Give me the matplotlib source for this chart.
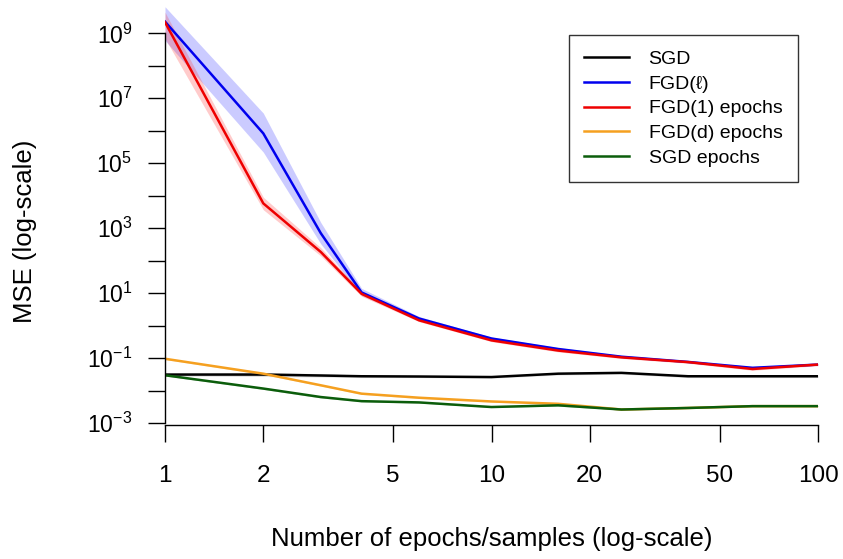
import matplotlib
matplotlib.use("Agg")
import matplotlib.pyplot as plt
from matplotlib.ticker import FixedLocator, FixedFormatter, NullLocator

plt.rcParams["font.family"] = ["Liberation Sans", "DejaVu Sans"]
plt.rcParams["mathtext.fontset"] = "custom"
plt.rcParams["mathtext.rm"] = "Liberation Sans"
plt.rcParams["mathtext.it"] = "Liberation Sans:italic"
plt.rcParams["mathtext.bf"] = "Liberation Sans:bold"

# ----------------------------------------------------------------------
# Data
# ----------------------------------------------------------------------
epochs = [1, 2, 3, 4, 6, 10, 16, 25, 40, 63, 100]

sgd = [0.031, 0.031, 0.029, 0.0275, 0.027, 0.026, 0.033, 0.035, 0.0275, 0.0275, 0.0275]
sgd_lo = [0.028, 0.027, 0.026, 0.025, 0.025, 0.024, 0.030, 0.032, 0.025, 0.025, 0.025]
sgd_hi = [0.034, 0.036, 0.033, 0.030, 0.029, 0.028, 0.036, 0.038, 0.030, 0.030, 0.030]

fgd_l = [2.3e9, 8.3e5, 700, 10.5, 1.65, 0.40, 0.19, 0.11, 0.076, 0.050, 0.063]
fgd_l_lo = [6.0e8, 2.2e5, 330, 8.5, 1.45, 0.37, 0.175, 0.102, 0.071, 0.046, 0.059]
fgd_l_hi = [6.6e9, 3.5e6, 1500, 14, 1.9, 0.44, 0.21, 0.12, 0.082, 0.055, 0.068]

fgd1 = [2.2e9, 5.8e3, 185, 9.5, 1.45, 0.35, 0.17, 0.105, 0.075, 0.046, 0.063]
fgd1_lo = [7.0e8, 3.7e3, 140, 8.0, 1.32, 0.32, 0.155, 0.097, 0.069, 0.042, 0.058]
fgd1_hi = [4.5e9, 9.0e3, 250, 11, 1.6, 0.38, 0.185, 0.113, 0.081, 0.050, 0.068]

fgdd = [0.095, 0.033, 0.0145, 0.008, 0.006, 0.0046, 0.0039, 0.0026, 0.0029, 0.0033, 0.0033]
fgdd_lo = [0.090, 0.031, 0.0137, 0.0076, 0.0057, 0.0044, 0.0037, 0.0025, 0.0028, 0.0032, 0.0032]
fgdd_hi = [0.100, 0.035, 0.0153, 0.0084, 0.0063, 0.0048, 0.0041, 0.0027, 0.0030, 0.0034, 0.0034]

sgd_ep = [0.0295, 0.0115, 0.0063, 0.0047, 0.0043, 0.0031, 0.0035, 0.0026, 0.0029, 0.0033, 0.0033]
sgd_ep_lo = [0.028, 0.0108, 0.0059, 0.0045, 0.0041, 0.0030, 0.0033, 0.0025, 0.0028, 0.0032, 0.0032]
sgd_ep_hi = [0.031, 0.0122, 0.0067, 0.0049, 0.0045, 0.0032, 0.0037, 0.0027, 0.0030, 0.0034, 0.0034]

x_ticks = [1, 2, 5, 10, 20, 50, 100]
x_ticklabels = ["1", "2", "5", "10", "20", "50", "100"]
y_ticks = [10.0 ** e for e in range(-3, 10)]
y_ticklabels = ["$10^{-3}$", "", "$10^{-1}$", "", "$10^{1}$", "", "$10^{3}$", "",
                "$10^{5}$", "", "$10^{7}$", "", "$10^{9}$"]

series = [
    ("SGD", sgd, sgd_lo, sgd_hi, "black", "grey"),
    ("FGD(ℓ)", fgd_l, fgd_l_lo, fgd_l_hi, "#0000EE", "#3333FF"),
    ("FGD(1) epochs", fgd1, fgd1_lo, fgd1_hi, "#EE0000", "#FF3333"),
    ("FGD(d) epochs", fgdd, fgdd_lo, fgdd_hi, "#F5A020", "#F5A020"),
    ("SGD epochs", sgd_ep, sgd_ep_lo, sgd_ep_hi, "#0B5D0B", "#0B5D0B"),
]

# ----------------------------------------------------------------------
# Plot
# ----------------------------------------------------------------------
fig = plt.figure(figsize=(8.43, 5.59), dpi=100)
ax = fig.add_axes([165 / 843, 1 - 425 / 559, 653 / 843, 425 / 559])

# bands first, lines on top
for name, y, lo, hi, col, fill in series:
    ax.fill_between(epochs, lo, hi, color=fill, alpha=0.25, linewidth=0)
for name, y, lo, hi, col, fill in series:
    ax.plot(epochs, y, color=col, linewidth=1.8, label=name)

ax.set_xscale("log")
ax.set_yscale("log")
ax.set_xlim(1, 100)
ax.set_ylim(10 ** -3.062, 10 ** 10.027)

ax.xaxis.set_major_locator(FixedLocator(x_ticks))
ax.xaxis.set_major_formatter(FixedFormatter(x_ticklabels))
ax.xaxis.set_minor_locator(NullLocator())
ax.yaxis.set_major_locator(FixedLocator(y_ticks))
ax.yaxis.set_major_formatter(FixedFormatter(y_ticklabels))
ax.yaxis.set_minor_locator(NullLocator())

for side in ["top", "right"]:
    ax.spines[side].set_visible(False)
ax.spines["left"].set_bounds(1e-3, 1e9)
ax.spines["bottom"].set_bounds(1, 100)
for side in ["left", "bottom"]:
    ax.spines[side].set_linewidth(1.0)

ax.tick_params(axis="x", direction="out", length=12.5, width=1.0, labelsize=17.5, pad=16)
ax.tick_params(axis="y", direction="out", length=12.5, width=1.0, labelsize=16.5, pad=11)

ax.set_xlabel("Number of epochs/samples (log-scale)", fontsize=18.5, labelpad=29)
ax.set_ylabel("MSE (log-scale)", fontsize=18.5)
ax.yaxis.set_label_coords(-(165 - 37) / 653, 0.456)

leg = ax.legend(loc="upper right", bbox_to_anchor=(798 / 843, 1 - 35 / 559),
                bbox_transform=fig.transFigure, fontsize=14, frameon=True,
                fancybox=False, handlelength=2.3, handletextpad=1.0,
                labelspacing=0.36, borderpad=0.8, borderaxespad=0)
leg.get_frame().set_edgecolor("black")
leg.get_frame().set_linewidth(1.0)
for line in leg.get_lines():
    line.set_linewidth(1.8)

fig.savefig("out.png", dpi=100)
